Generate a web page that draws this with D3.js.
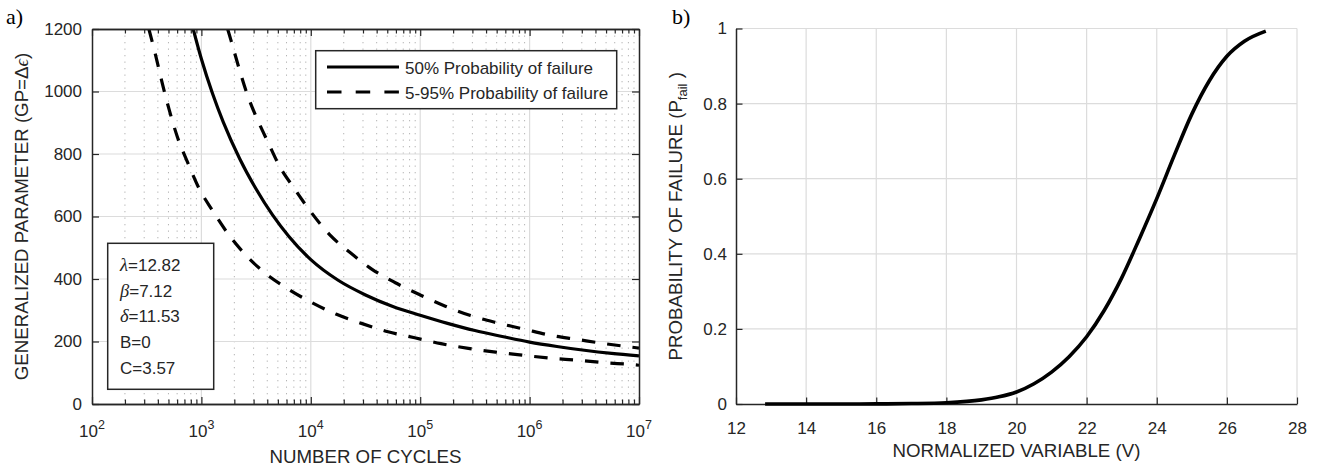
<!DOCTYPE html>
<html lang="en">
<head>
<meta charset="UTF-8">
<script src="https://cdn.jsdelivr.net/npm/d3@7"></script>
<style>
    body { margin: 0; background: #fff; }
    svg text { font-family: 'Liberation Sans', Arial, sans-serif; fill: #262626; }
    .axis path, .axis line { stroke: #262626; }
    .axis path { stroke-width: 1.5px; }
    .axis line { stroke-width: 1.2px; }
    .grid-major { stroke: #dcdcdc; stroke-width: 1.2px; }
    .grid-minor { stroke: #b4b4b4; stroke-width: 1px; stroke-dasharray: 1.3 5.2; }
</style>
</head>
<body>
<svg id="chart" width="1321" height="470"></svg>
<script>
// a) S-N curves: exponent of cycles (10^e) vs generalized parameter
const cycleExp50 = [2.925, 3.0, 3.1, 3.2, 3.35, 3.5, 3.65, 3.8, 4.0, 4.25, 4.5, 4.75, 5.0, 5.25, 5.5, 5.75, 6.0, 6.25, 6.5, 6.75, 7.0];
const gp50 = [1200, 1104, 995, 902, 785, 688, 605, 536, 462, 396, 349, 312, 284, 258, 235, 216, 198, 184, 172, 162, 154];

const cycleExp05 = [2.52, 2.585, 2.646, 2.706, 2.782, 2.874, 2.974, 3.1, 3.245, 3.404, 3.586, 3.793, 4.006, 4.235, 4.463, 4.706, 4.95, 5.19, 5.44, 5.69, 5.94, 6.18, 6.44, 6.69, 6.94, 7.0];
const gp05 = [1200, 1111, 1021, 941, 853, 773, 693, 620, 544, 477, 418, 368, 325, 287, 258, 231, 212, 193, 178, 166, 156, 147, 140, 132, 126, 124];

const cycleExp95 = [3.24, 3.272, 3.34, 3.416, 3.507, 3.607, 3.711, 3.848, 4.006, 4.174, 4.362, 4.56, 4.773, 5.0, 5.23, 5.46, 5.70, 5.945, 6.19, 6.43, 6.69, 6.93, 7.0];
const gp95 = [1200, 1162, 1079, 994, 914, 839, 763, 690, 612, 541, 484, 431, 388, 349, 313, 283, 260, 240, 220, 207, 193, 182, 179];

// b) probability of failure vs normalized variable
const normVar = [12.83, 14, 15, 16, 17, 18, 19, 19.5, 20, 20.5, 21, 21.5, 22, 22.5, 23, 23.5, 24, 24.5, 25, 25.5, 26, 26.5, 27.11];
const pFail = [0, 0, 0.0001, 0.0003, 0.0012, 0.0035, 0.011, 0.019, 0.032, 0.054, 0.085, 0.126, 0.179, 0.249, 0.336, 0.439, 0.547, 0.662, 0.772, 0.861, 0.926, 0.966, 0.993];

const gpTicks = [0, 200, 400, 600, 800, 1000, 1200];
const cycleTickExp = [2, 3, 4, 5, 6, 7];
const vTicks = [12, 14, 16, 18, 20, 22, 24, 26, 28];
const pTicks = [0, 0.2, 0.4, 0.6, 0.8, 1];
const legendLabels = ["50% Probability of failure", "5-95% Probability of failure"];
const paramGreek = ["λ", "β", "δ", "", ""];
const paramText = ["=12.82", "=7.12", "=11.53", "B=0", "C=3.57"];

const svg = d3.select("#chart");
const fs = 17, labelFs = 18.7;

// ---------- panel a ----------
const A = {x0: 92, x1: 639, y0: 29, y1: 404};
const xA = d3.scaleLog().domain([1e2, 1e7]).range([A.x0, A.x1]);
const yA = d3.scaleLinear().domain([0, 1200]).range([A.y1, A.y0]);

const majorN = cycleTickExp.map(e => Math.pow(10, e));
const minorN = [];
cycleTickExp.slice(0, -1).forEach(e => {
    for (let k = 2; k <= 9; k++) minorN.push(k * Math.pow(10, e));
});

const gA = svg.append("g");
gA.selectAll(".gm").data(minorN).enter().append("line")
    .attr("class", "grid-minor")
    .attr("x1", d => xA(d)).attr("x2", d => xA(d))
    .attr("y1", A.y0).attr("y2", A.y1);
gA.selectAll(".gx").data(majorN.slice(1, -1)).enter().append("line")
    .attr("class", "grid-major")
    .attr("x1", d => xA(d)).attr("x2", d => xA(d))
    .attr("y1", A.y0).attr("y2", A.y1);
gA.selectAll(".gy").data(gpTicks.slice(1, -1)).enter().append("line")
    .attr("class", "grid-major")
    .attr("x1", A.x0).attr("x2", A.x1)
    .attr("y1", d => yA(d)).attr("y2", d => yA(d));

svg.append("clipPath").attr("id", "clipA").append("rect")
    .attr("x", A.x0).attr("y", A.y0).attr("width", A.x1 - A.x0).attr("height", A.y1 - A.y0);

const lineA = d3.line().x(d => xA(Math.pow(10, d[0]))).y(d => yA(d[1])).curve(d3.curveMonotoneX);
const curvesA = [
    {e: cycleExp50, g: gp50, dash: null},
    {e: cycleExp05, g: gp05, dash: "13.5 12"},
    {e: cycleExp95, g: gp95, dash: "13.5 12"}
];
curvesA.forEach(c => {
    gA.append("path")
        .datum(c.e.map((e, i) => [e, c.g[i]]))
        .attr("clip-path", "url(#clipA)")
        .attr("fill", "none")
        .attr("stroke", "#000")
        .attr("stroke-width", 3.2)
        .attr("stroke-dasharray", c.dash)
        .attr("d", lineA);
});

// axes (box on, ticks inward)
gA.append("g").attr("transform", `translate(0,${A.y1})`)
    .call(d3.axisBottom(xA).tickValues(majorN).tickSize(-7).tickSizeOuter(0).tickFormat(""));
gA.append("g").attr("transform", `translate(0,${A.y1})`)
    .call(d3.axisBottom(xA).tickValues(minorN).tickSize(-4.5).tickSizeOuter(0).tickFormat(""));
gA.append("g").attr("transform", `translate(0,${A.y0})`)
    .call(d3.axisTop(xA).tickValues(majorN).tickSize(-7).tickSizeOuter(0).tickFormat(""));
gA.append("g").attr("transform", `translate(0,${A.y0})`)
    .call(d3.axisTop(xA).tickValues(minorN).tickSize(-4.5).tickSizeOuter(0).tickFormat(""));
gA.append("g").attr("transform", `translate(${A.x0},0)`)
    .call(d3.axisLeft(yA).tickValues(gpTicks).tickSize(-7).tickSizeOuter(0).tickPadding(10).tickFormat(d3.format("d")))
    .selectAll("text").attr("font-size", fs);
gA.append("g").attr("transform", `translate(${A.x1},0)`)
    .call(d3.axisRight(yA).tickValues(gpTicks).tickSize(-7).tickSizeOuter(0).tickFormat(""));
gA.selectAll("g").attr("class", "axis");

// log tick labels with superscript
const xl = gA.selectAll(".xlab").data(cycleTickExp).enter().append("text")
    .attr("x", d => xA(Math.pow(10, d)))
    .attr("y", A.y1 + 33)
    .attr("text-anchor", "middle")
    .attr("font-size", fs);
xl.append("tspan").text("10");
xl.append("tspan").attr("dy", -8).attr("font-size", 12.5).text(d => d);

svg.append("text").attr("x", (A.x0 + A.x1) / 2).attr("y", 463)
    .attr("text-anchor", "middle").attr("font-size", labelFs).text("NUMBER OF CYCLES");
const yLabA = svg.append("text").attr("transform", `translate(28.3,${(A.y0 + A.y1) / 2}) rotate(-90)`)
    .attr("text-anchor", "middle").attr("font-size", labelFs);
yLabA.append("tspan").text("GENERALIZED PARAMETER (GP=Δ");
yLabA.append("tspan").style("font-family", "'Liberation Serif', serif").attr("font-style", "italic").text("ϵ");
yLabA.append("tspan").text(")");

// legend
const leg = svg.append("g");
leg.append("rect").attr("x", 315.7).attr("y", 50.7).attr("width", 301).attr("height", 58)
    .attr("fill", "#fff").attr("stroke", "#262626").attr("stroke-width", 1.5);
legendLabels.forEach((t, i) => {
    const ly = 67 + i * 25;
    leg.append("line").attr("x1", 327).attr("x2", 399).attr("y1", ly).attr("y2", ly)
        .attr("stroke", "#000").attr("stroke-width", 3.2)
        .attr("stroke-dasharray", i === 0 ? null : "14.5 14.2");
    leg.append("text").attr("x", 405).attr("y", 74 + i * 25).attr("font-size", fs).text(t);
});

// parameter box
const pb = svg.append("g");
pb.append("rect").attr("x", 107.7).attr("y", 243.3).attr("width", 106).attr("height", 146)
    .attr("fill", "#fff").attr("stroke", "#262626").attr("stroke-width", 1.5);
paramText.forEach((t, i) => {
    const tx = pb.append("text").attr("x", 120).attr("y", 270.7 + i * 25.8).attr("font-size", fs);
    if (paramGreek[i]) {
        tx.append("tspan").style("font-family", "'Liberation Serif', serif")
            .attr("font-style", "italic").attr("font-size", 18.5).text(paramGreek[i]);
    }
    tx.append("tspan").text(t);
});

svg.append("text").attr("x", 6).attr("y", 24).attr("font-size", 22)
    .style("font-family", "'Liberation Serif', 'Times New Roman', serif").style("fill", "#000").text("a)");

// ---------- panel b ----------
const B = {x0: 736, x1: 1297, y0: 28.5, y1: 404};
const xB = d3.scaleLinear().domain([12, 28]).range([B.x0, B.x1]);
const yB = d3.scaleLinear().domain([0, 1]).range([B.y1, B.y0]);

const gB = svg.append("g");
gB.selectAll(".gx").data(vTicks.slice(1)).enter().append("line")
    .attr("class", "grid-major")
    .attr("x1", d => xB(d)).attr("x2", d => xB(d))
    .attr("y1", B.y0).attr("y2", B.y1);
gB.selectAll(".gy").data(pTicks.slice(1)).enter().append("line")
    .attr("class", "grid-major")
    .attr("x1", B.x0).attr("x2", B.x1)
    .attr("y1", d => yB(d)).attr("y2", d => yB(d));

const axBx = gB.append("g").attr("transform", `translate(0,${B.y1})`)
    .call(d3.axisBottom(xB).tickValues(vTicks).tickSize(-6.5).tickSizeOuter(0).tickFormat(d3.format("d")));
axBx.attr("class", "axis");
axBx.selectAll("text").attr("y", 29.5).attr("dy", null).attr("font-size", fs);
const axBy = gB.append("g").attr("transform", `translate(${B.x0},0)`)
    .call(d3.axisLeft(yB).tickValues(pTicks).tickSize(-6.5).tickSizeOuter(0).tickPadding(9).tickFormat(d => d3.format("")(+d.toFixed(1))));
axBy.attr("class", "axis");
axBy.selectAll("text").attr("font-size", fs);
svg.selectAll(".axis text").style("fill", "#262626").attr("stroke", "none");
svg.selectAll(".axis").attr("font-family", null);

gB.append("path")
    .datum(normVar.map((v, i) => [v, pFail[i]]))
    .attr("fill", "none")
    .attr("stroke", "#000")
    .attr("stroke-width", 3.6)
    .attr("d", d3.line().x(d => xB(d[0])).y(d => yB(d[1])).curve(d3.curveMonotoneX));

svg.append("text").attr("x", (B.x0 + B.x1) / 2).attr("y", 457)
    .attr("text-anchor", "middle").attr("font-size", labelFs).text("NORMALIZED VARIABLE (V)");
const yLabB = svg.append("text").attr("transform", `translate(681.7,${(B.y0 + B.y1) / 2}) rotate(-90)`)
    .attr("text-anchor", "middle").attr("font-size", labelFs);
yLabB.append("tspan").text("PROBABILITY OF FAILURE (P");
yLabB.append("tspan").attr("dy", 5).attr("font-size", 13).text("fail");
yLabB.append("tspan").attr("dy", -5).text(" )");

svg.append("text").attr("x", 672).attr("y", 24).attr("font-size", 22)
    .style("font-family", "'Liberation Serif', 'Times New Roman', serif").style("fill", "#000").text("b)");
</script>
</body>
</html>
